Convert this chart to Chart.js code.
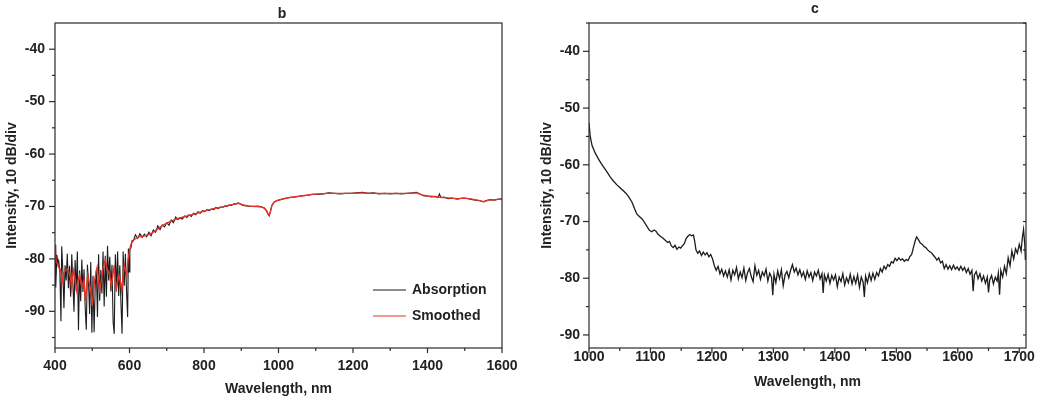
<!DOCTYPE html>
<html>
<head>
<meta charset="utf-8">
<script src="https://cdn.jsdelivr.net/npm/chart.js@4"></script>
<style>
  body { margin: 0; background: #fff; }
  .panel { position: absolute; top: 0; height: 400px; }
  #panelB { left: 0; width: 520px; }
  #panelC { left: 520px; width: 535px; }
</style>
</head>
<body>
<div class="panel" id="panelB"><canvas id="chartB"></canvas></div>
<div class="panel" id="panelC"><canvas id="chartC"></canvas></div>
<script>
// ---- panel b : absorption spectrum and its smoothed version ----
const bAbsX = [400,402,405,408,410,413,416,418,421,424,427,430,433,436,439,442,445,448,451,454,457,460,463,466,469,472,475,478,481,484,487,490,493,496,499,502,505,508,511,514,517,520,523,526,529,532,535,538,541,544,547,550,553,556,559,562,565,568,571,574,577,580,583,586,589,592,595,597,599,601,604,607,
  610,616,622,628,634,640,646,652,658,664,670,676,682,688,694,700,706,712,718,724,730,736,742,748,754,760,766,772,778,784,790,796,802,808,814,820,826,832,838,844,850,856,862,868,874,880,886,892,898,905,915,925,935,945,955,962,968,972,975,978,982,988,995,
  1005,1015,1030,1045,1060,1075,1090,1105,1120,1135,1150,1165,1180,1195,1210,1225,1240,1255,1270,1285,1300,1315,1330,1345,1360,1370,1380,1390,1400,1410,1420,1428,1432,1436,1445,1455,1465,1480,1495,1510,1520,1530,1540,1550,1560,1570,1580,1590,1600];
const bAbsY = [-77.3,-85.5,-79.2,-81.0,-80.4,-82.3,-91.9,-77.6,-82.1,-89.4,-81.2,-84.1,-79.0,-85.6,-81.3,-87.2,-79.1,-84.6,-90.1,-80.2,-86.1,-78.6,-93.6,-82.2,-88.1,-80.1,-86.3,-82.0,-89.2,-93.5,-81.1,-84.6,-90.5,-80.6,-94.1,-83.2,-94.0,-85.1,-82.2,-91.1,-79.1,-88.0,-82.1,-86.6,-78.6,-89.1,-79.4,-87.2,-77.5,-84.1,-79.6,-86.2,-81.1,-92.0,-94.3,-79.1,-86.2,-78.6,-87.1,-81.2,-88.3,-94.3,-78.6,-85.1,-79.0,-86.2,-91.1,-78.0,-82.5,-78.2,-77.9,-76.5,
  -76.6,-75.4,-76.1,-75.2,-75.9,-75.3,-75.8,-74.9,-75.6,-74.5,-74.9,-73.7,-74.4,-73.5,-73.9,-73.1,-73.6,-72.6,-73.1,-72.0,-72.5,-72.2,-72.4,-71.8,-72.1,-71.6,-71.9,-71.3,-71.6,-71.0,-71.3,-70.8,-71.0,-70.6,-70.8,-70.5,-70.6,-70.2,-70.4,-70.1,-70.2,-69.9,-70.0,-69.7,-69.8,-69.5,-69.5,-69.3,-69.6,-69.8,-69.9,-70.0,-70.0,-69.9,-70.1,-70.3,-70.8,-71.5,-71.8,-71.0,-69.8,-69.2,-68.9,
  -68.7,-68.5,-68.3,-68.2,-68.0,-67.9,-67.7,-67.7,-67.6,-67.4,-67.5,-67.6,-67.5,-67.5,-67.4,-67.3,-67.5,-67.4,-67.6,-67.5,-67.6,-67.5,-67.6,-67.5,-67.4,-67.3,-67.6,-68.0,-68.0,-68.2,-68.1,-68.3,-67.6,-68.3,-68.2,-68.5,-68.4,-68.6,-68.4,-68.5,-68.7,-68.8,-68.9,-69.1,-68.8,-68.7,-68.8,-68.6,-68.6];

const bSmoothX = [400,403,407,411,415,419,423,428,433,437,441,445,449,454,458,462,466,470,474,478,481,485,488,492,496,500,503,506,510,513,517,520,524,528,532,535,539,543,547,551,555,559,562,565,569,572,576,579,583,586,589,593,596,599,603,608,
  615,625,640,655,670,685,700,715,730,745,760,775,790,805,820,835,850,865,880,893,905,920,940,955,963,968,972,975,978,982,988,995,
  1010,1030,1050,1070,1090,1110,1130,1150,1175,1200,1225,1250,1275,1300,1325,1350,1370,1385,1400,1420,1440,1460,1480,1500,1520,1535,1550,1565,1580,1600];
const bSmoothY = [-77.3,-80.6,-80.9,-81.8,-82.0,-84.6,-82.6,-82.3,-81.9,-82.4,-83.5,-85.6,-82.1,-83.8,-86.0,-84.2,-83.1,-84.9,-85.1,-84.0,-88.0,-85.6,-83.1,-84.6,-86.0,-89.0,-86.8,-84.2,-82.6,-81.6,-84.0,-86.0,-84.3,-82.0,-81.0,-80.1,-81.8,-82.3,-83.2,-85.2,-83.4,-81.2,-84.2,-85.6,-84.0,-83.1,-84.5,-86.1,-83.2,-81.2,-82.0,-83.1,-80.2,-79.0,-77.4,-76.6,
  -76.2,-75.8,-75.6,-75.3,-74.6,-73.8,-73.2,-72.7,-72.3,-72.0,-71.7,-71.4,-71.1,-70.8,-70.5,-70.3,-70.1,-69.8,-69.6,-69.4,-69.7,-69.9,-70.0,-70.1,-70.4,-70.9,-71.5,-71.7,-71.1,-69.9,-69.2,-68.9,
  -68.6,-68.3,-68.1,-67.9,-67.7,-67.6,-67.5,-67.5,-67.5,-67.5,-67.4,-67.5,-67.5,-67.5,-67.5,-67.5,-67.4,-67.8,-68.0,-68.1,-68.3,-68.4,-68.5,-68.4,-68.6,-68.8,-69.1,-68.8,-68.7,-68.6];

const bXTicks = [400, 600, 800, 1000, 1200, 1400, 1600];
const bXMinor = [500, 700, 900, 1100, 1300, 1500];
const bYTicks = [-40, -50, -60, -70, -80, -90];
const bYMinor = [-45, -55, -65, -75, -85, -95];

// ---- panel c : single spectrum ----
const cX = [1000,1002,1005,1010,1015,1020,1025,1030,1035,1040,1045,1050,1055,1060,1065,1070,1074,1078,1082,1086,1090,1094,1098,1102,1106,1109,1112,1116,1120,1124,1128,1131,1134,1137,1140,1143,1146,1149,1152,1155,1158,1161,1164,1167,1170,1172,1174,1177,1180,1183,1186,1189,1192,1195,1198,
  1201,1204,1207,1210,1213,1216,1219,1222,1225,1228,1231,1234,1237,1240,1243,1246,1249,1252,1255,1258,1261,1264,1267,1270,1273,1276,1279,1282,1285,1288,1291,1294,1297,1299,
  1301,1304,1307,1310,1313,1316,1319,1322,1325,1328,1331,1334,1337,1340,1343,1346,1349,1352,1355,1358,1361,1364,1367,1370,1373,1376,1379,1381,1383,1386,1389,1392,1395,1398,
  1401,1404,1407,1410,1413,1416,1419,1422,1425,1428,1431,1434,1437,1440,1443,1446,1448,1450,1453,1456,1459,1462,1465,1468,1471,1474,1477,1480,1483,1486,1489,1492,1495,1498,
  1501,1504,1507,1510,1513,1516,1519,1522,1525,1528,1531,1533,1536,1539,1542,1545,1548,1551,1554,1557,1560,1563,1566,1569,1572,1575,1578,1581,1584,1587,1590,1593,1596,1599,
  1602,1605,1608,1611,1614,1617,1620,1623,1625,1627,1630,1633,1636,1639,1642,1645,1648,1650,1652,1655,1658,1661,1664,1666,1668,1670,1673,1676,1679,1682,1685,1688,1691,1694,1697,
  1700,1703,1705,1707,1709,1710];
const cY = [-52.6,-55.0,-56.6,-57.9,-58.9,-59.8,-60.6,-61.4,-62.2,-62.9,-63.5,-64.0,-64.5,-65.0,-65.7,-66.6,-67.7,-68.7,-69.1,-69.5,-70.1,-70.8,-71.5,-71.8,-71.5,-71.7,-72.2,-72.6,-72.9,-73.3,-73.7,-73.5,-74.3,-74.6,-74.2,-74.9,-74.5,-74.7,-74.3,-73.9,-73.0,-72.6,-72.3,-72.5,-72.4,-73.5,-75.0,-75.6,-75.2,-76.0,-75.4,-75.9,-75.5,-76.2,-75.8,
  -76.6,-77.8,-78.6,-77.9,-79.2,-78.4,-79.6,-78.7,-79.8,-78.5,-80.3,-78.6,-79.4,-78.1,-80.1,-78.9,-79.9,-78.2,-80.4,-79.0,-78.3,-79.7,-80.6,-77.8,-79.5,-78.6,-80.2,-78.9,-79.6,-78.4,-80.5,-79.1,-79.8,-83.0,
  -79.3,-80.8,-78.7,-80.1,-78.5,-81.3,-79.4,-78.8,-79.9,-78.6,-77.6,-78.9,-78.2,-79.4,-78.5,-79.7,-78.9,-80.2,-78.7,-79.8,-79.0,-80.4,-78.9,-79.6,-78.6,-80.1,-79.2,-82.6,-79.4,-80.5,-79.3,-80.9,-79.5,-80.3,
  -79.4,-81.5,-79.8,-80.6,-79.2,-81.2,-79.9,-80.8,-79.3,-81.0,-79.7,-80.9,-79.4,-81.6,-79.8,-80.7,-83.3,-79.6,-80.8,-79.2,-80.4,-79.1,-80.2,-79.0,-79.6,-78.3,-78.9,-77.9,-78.4,-77.6,-77.9,-77.1,-77.3,-76.5,
  -76.9,-76.4,-76.8,-76.6,-77.0,-76.7,-76.9,-76.2,-75.8,-74.5,-73.3,-72.7,-73.2,-73.8,-74.0,-74.4,-74.6,-75.0,-75.3,-75.5,-75.9,-76.3,-76.8,-76.4,-77.3,-77.0,-78.3,-77.6,-78.4,-77.8,-78.5,-77.7,-78.4,-78.0,
  -78.6,-77.9,-78.6,-78.1,-79.0,-78.3,-79.3,-78.6,-82.3,-79.4,-78.8,-80.1,-79.2,-80.5,-79.6,-80.9,-79.8,-82.5,-80.3,-79.5,-81.0,-79.8,-80.5,-79.1,-82.9,-78.6,-79.8,-77.9,-79.2,-76.4,-77.8,-75.2,-76.6,-74.8,-75.6,
  -74.0,-75.2,-72.9,-71.4,-74.0,-76.8];

const cXTicks = [1000, 1100, 1200, 1300, 1400, 1500, 1600, 1700];
const cXMinor = [1050, 1150, 1250, 1350, 1450, 1550, 1650];
const cYTicks = [-40, -50, -60, -70, -80, -90];
const cYMinor = [-35, -45, -55, -65, -75, -85];

const axisColor = '#2a2a2a';
const textColor = '#222';
const fontFamily = '"Liberation Sans", Arial, sans-serif';
const boldFont = { family: fontFamily, size: 14, weight: 'bold' };

function points(xs, ys) {
  return xs.map((x, i) => ({ x: x, y: ys[i] }));
}

// box round the plot, tick marks, panel letter and optional legend
function framePlugin(cfg) {
  return {
    id: 'frame',
    afterDraw(chart) {
      const { ctx, chartArea: a, scales: { x, y } } = chart;
      ctx.save();
      ctx.strokeStyle = axisColor;
      ctx.lineWidth = 1.2;
      ctx.strokeRect(a.left, a.top, a.right - a.left, a.bottom - a.top);

      const line = (x1, y1, x2, y2) => {
        ctx.beginPath(); ctx.moveTo(x1, y1); ctx.lineTo(x2, y2); ctx.stroke();
      };
      cfg.xMajor.forEach(v => { const p = x.getPixelForValue(v); line(p, a.bottom, p, a.bottom + 5); });
      cfg.xMinor.forEach(v => { const p = x.getPixelForValue(v); line(p, a.bottom, p, a.bottom + 3); });
      cfg.yMajor.forEach(v => { const p = y.getPixelForValue(v); line(a.left - 6, p, a.left, p); });
      cfg.yMinor.forEach(v => { const p = y.getPixelForValue(v); line(a.left - 3, p, a.left, p); });
      if (cfg.rightTicks) {
        cfg.yMajor.concat(cfg.yMinor).forEach(v => { const p = y.getPixelForValue(v); line(a.right - 3, p, a.right, p); });
      }

      ctx.fillStyle = textColor;
      ctx.font = 'bold 14px ' + fontFamily;
      ctx.textAlign = 'center';
      ctx.textBaseline = 'alphabetic';
      ctx.fillText(cfg.letter, cfg.letterX, cfg.letterY);

      if (cfg.legend) {
        ctx.textAlign = 'left';
        ctx.textBaseline = 'middle';
        cfg.legend.forEach(item => {
          const ds = chart.data.datasets[item.index];
          ctx.strokeStyle = ds.borderColor;
          ctx.lineWidth = 1.2;
          line(item.x, item.y, item.x + 33, item.y);
          ctx.fillStyle = textColor;
          ctx.fillText(ds.label, item.x + 39, item.y);
        });
      }
      ctx.restore();
    }
  };
}

function makeOptions(o) {
  return {
    responsive: true,
    maintainAspectRatio: false,
    animation: false,
    events: [],
    layout: { padding: { top: 23, right: o.padRight, left: 0, bottom: 0 } },
    plugins: { legend: { display: false }, tooltip: { enabled: false } },
    elements: { point: { radius: 0 }, line: { tension: 0 } },
    scales: {
      x: {
        type: 'linear', min: o.xMin, max: o.xMax,
        afterFit: s => { s.height = 52; s.paddingLeft = 0; s.paddingRight = 0; },
        afterBuildTicks: s => { s.ticks = o.xTicks.map(v => ({ value: v })); },
        grid: { display: false, drawTicks: false },
        border: { display: false },
        ticks: { font: boldFont, color: textColor, padding: o.xTickPad, maxRotation: 0, autoSkip: false, callback: v => String(v) },
        title: { display: true, text: 'Wavelength, nm', font: boldFont, color: textColor, padding: { top: 0, bottom: o.xTitlePad } }
      },
      y: {
        type: 'linear', min: o.yMin, max: o.yMax,
        afterFit: s => { s.width = o.yWidth; s.paddingTop = 0; s.paddingBottom = 0; },
        afterBuildTicks: s => { s.ticks = o.yTicks.map(v => ({ value: v })); },
        grid: { display: false, drawTicks: false },
        border: { display: false },
        ticks: { font: boldFont, color: textColor, padding: o.yTickPad, autoSkip: false, callback: v => String(v) },
        title: { display: true, text: 'Intensity, 10 dB/div', font: boldFont, color: textColor, padding: { top: o.yTitlePad, bottom: 0 } }
      }
    }
  };
}

new Chart(document.getElementById('chartB'), {
  type: 'line',
  data: {
    datasets: [
      { label: 'Absorption', data: points(bAbsX, bAbsY), borderColor: '#1c1c1c', borderWidth: 1.1, order: 1 },
      { label: 'Smoothed', data: points(bSmoothX, bSmoothY), borderColor: '#e8332a', borderWidth: 1.4, order: 0 }
    ]
  },
  options: makeOptions({
    padRight: 18, xMin: 400, xMax: 1600, yMin: -97, yMax: -35, yWidth: 55,
    xTicks: bXTicks, yTicks: bYTicks, xTickPad: 9.6, yTickPad: 10, xTitlePad: 2.6, yTitlePad: 4
  }),
  plugins: [framePlugin({
    xMajor: bXTicks, xMinor: bXMinor, yMajor: bYTicks, yMinor: bYMinor, rightTicks: false,
    letter: 'b', letterX: 282, letterY: 18,
    legend: [{ index: 0, x: 373, y: 290 }, { index: 1, x: 373, y: 316 }]
  })]
});

new Chart(document.getElementById('chartC'), {
  type: 'line',
  data: {
    datasets: [
      { label: 'Spectrum', data: points(cX, cY), borderColor: '#1c1c1c', borderWidth: 1.3 }
    ]
  },
  options: makeOptions({
    padRight: 29, xMin: 1000, xMax: 1711, yMin: -92.3, yMax: -35, yWidth: 69,
    xTicks: cXTicks, yTicks: cYTicks, xTickPad: 0.3, yTickPad: 9, xTitlePad: 9.9, yTitlePad: 18.6
  }),
  plugins: [framePlugin({
    xMajor: cXTicks, xMinor: cXMinor, yMajor: cYTicks, yMinor: cYMinor, rightTicks: true,
    letter: 'c', letterX: 295, letterY: 13
  })]
});
</script>
</body>
</html>
